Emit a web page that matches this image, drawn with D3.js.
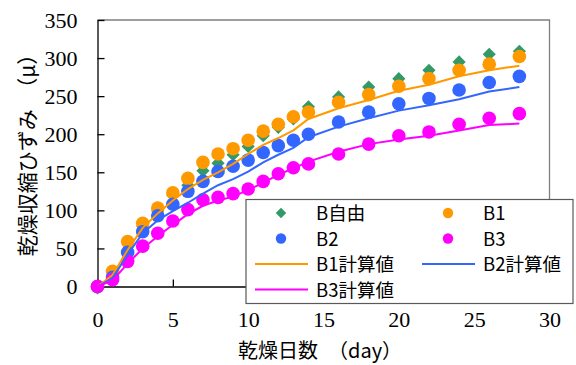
<!DOCTYPE html>
<html>
<head>
<meta charset="utf-8">
<script src="https://cdn.jsdelivr.net/npm/d3@7"></script>
<style>
  html, body { margin: 0; padding: 0; background: #fff; }
  svg { display: block; }
</style>
</head>
<body>
<div id="chart"></div>
<script>
// Drying days (daily to day 14, then every other day)
const days = [0,1,2,3,4,5,6,7,8,9,10,11,12,13,14,16,18,20,22,24,26,28];

// Measured drying shrinkage strain (μ)
const bFree = [-2,14,47,79,99,120,133,152,162,173,184,198,209,220,236,249,262,273,284,295,305,309];
const b1    = [0,20,59,83,103,123,142,163,174,181,192,204,213,223,229,242,252,263,273,284,292,302];
const b2    = [0,12,45,72,93,108,125,138,151,158,166,176,185,192,200,216,229,240,247,258,268,276];
const b3    = [0,9,33,53,70,86,101,114,117,122,128,138,148,156,161,174,187,198,203,213,221,227];

// Calculated values
const b1Calc = [0,15,48,77,96,113,128,140,150,161,174,186,195,205,220,234,245,257,265,276,284,290];
const b2Calc = [0,11,42,70,87,99,110,122,133,141,151,163,173,182,196,210,221,231,238,246,256,262];
const b3Calc = [0,8,30,50,66,81,95,106,113,118,127,136,147,155,164,177,187,193,198,205,212,214];

const xTicks = [0,5,10,15,20,25,30];
const yTicks = [0,50,100,150,200,250,300,350];

const W = 576, H = 365;
const svg = d3.select("#chart").append("svg").attr("width", W).attr("height", H);

const x = d3.scaleLinear().domain([0, 30]).range([97.5, 549.5]);
const y = d3.scaleLinear().domain([0, 350]).range([286.5, 20]);

const serif = "'Liberation Serif', 'Times New Roman', serif";
const gothic = "'Noto Sans CJK JP', 'Noto Sans', sans-serif";

// Plot frame: top and right in gray
svg.append("path")
  .attr("d", `M${x(0)},${y(350)}H${x(30)}V${y(0)}`)
  .attr("fill", "none").attr("stroke", "#7f7f7f").attr("stroke-width", 1.3);

// Axes with inward ticks
const xAxis = d3.axisBottom(x).tickValues(xTicks).tickSizeInner(-7).tickSizeOuter(0).tickPadding(25);
const yAxis = d3.axisLeft(y).tickValues(yTicks).tickSizeInner(-7).tickSizeOuter(0).tickPadding(20);

const gx = svg.append("g").attr("transform", `translate(0,${y(0)})`).call(xAxis);
const gy = svg.append("g").attr("transform", `translate(${x(0)},0)`).call(yAxis);
[gx, gy].forEach(g => {
  g.select(".domain").attr("stroke", "#000").attr("stroke-width", 1.3);
  g.selectAll(".tick line").attr("stroke", "#000").attr("stroke-width", 1.3);
  g.selectAll(".tick text").attr("font-family", serif).attr("font-size", 22).attr("fill", "#000");
});

// Markers
const colors = { free: "#339966", b1: "#ff9900", b2: "#3366ff", b3: "#ff00ff" };
const diamond = d3.symbol().type(d3.symbolDiamond2);

svg.append("g").selectAll("path").data(days.map((d, i) => [d, bFree[i]])).join("path")
  .attr("d", diamond.size(110)())
  .attr("transform", d => `translate(${x(d[0])},${y(d[1])})`)
  .attr("fill", colors.free);

function dots(vals, color, r) {
  svg.append("g").selectAll("circle").data(days.map((d, i) => [d, vals[i]])).join("circle")
    .attr("cx", d => x(d[0])).attr("cy", d => y(d[1])).attr("r", r).attr("fill", color);
}
dots(b1, colors.b1, 6.8);
dots(b2, colors.b2, 6.8);
dots(b3, colors.b3, 6.8);

// Calculated curves
const line = d3.line().x(d => x(d[0])).y(d => y(d[1]));
function curve(vals, color) {
  svg.append("path").datum(days.map((d, i) => [d, vals[i]]))
    .attr("d", line).attr("fill", "none").attr("stroke", color).attr("stroke-width", 2);
}
curve(b1Calc, colors.b1);
curve(b2Calc, colors.b2);
curve(b3Calc, colors.b3);

// Axis titles
svg.append("text")
  .attr("x", 238).attr("y", 358)
  .attr("font-family", gothic).attr("font-size", 20).attr("fill", "#000")
  .text("乾燥日数　（day）");

svg.append("text")
  .attr("transform", "translate(35,150) rotate(-90)")
  .attr("text-anchor", "middle")
  .attr("font-family", gothic).attr("font-size", 21).attr("fill", "#000")
  .text("乾燥収縮ひずみ　（μ）");

// Legend
const lg = svg.append("g");
lg.append("rect").attr("x", 246).attr("y", 199.5).attr("width", 327).attr("height", 104)
  .attr("fill", "#fff").attr("stroke", "#595959").attr("stroke-width", 1.2);

const legendItems = [
  { label: "B自由", kind: "diamond", color: colors.free, col: 0, row: 0 },
  { label: "B1", kind: "dot", color: colors.b1, col: 1, row: 0 },
  { label: "B2", kind: "dot", color: colors.b2, col: 0, row: 1 },
  { label: "B3", kind: "dot", color: colors.b3, col: 1, row: 1 },
  { label: "B1計算値", kind: "line", color: colors.b1, col: 0, row: 2 },
  { label: "B2計算値", kind: "line", color: colors.b2, col: 1, row: 2 },
  { label: "B3計算値", kind: "line", color: colors.b3, col: 0, row: 3 }
];
const colX = [255, 422];
const textX = [316, 483];
const rowY = [213, 238.5, 264, 289.5];

legendItems.forEach(it => {
  const cy = rowY[it.row];
  if (it.kind === "line") {
    lg.append("line").attr("x1", colX[it.col]).attr("x2", colX[it.col] + 53)
      .attr("y1", cy).attr("y2", cy).attr("stroke", it.color).attr("stroke-width", 2);
  } else if (it.kind === "dot") {
    lg.append("circle").attr("cx", colX[it.col] + 26).attr("cy", cy).attr("r", 5.2).attr("fill", it.color);
  } else {
    lg.append("path").attr("d", diamond.size(70)())
      .attr("transform", `translate(${colX[it.col] + 26},${cy})`).attr("fill", it.color);
  }
  lg.append("text").attr("x", textX[it.col]).attr("y", cy + 7)
    .attr("font-family", gothic).attr("font-size", 18.5).attr("fill", "#000")
    .text(it.label);
});
</script>
</body>
</html>
